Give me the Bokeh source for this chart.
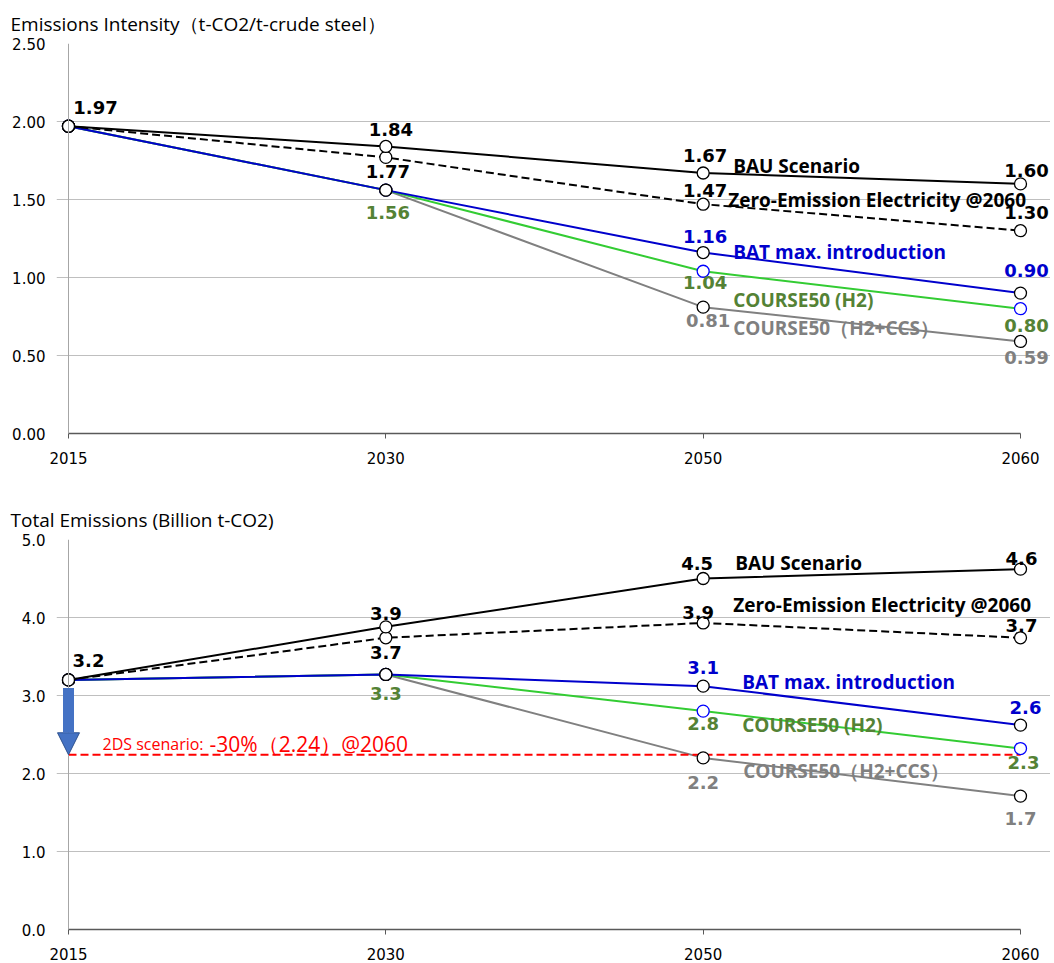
from bokeh.plotting import figure
from bokeh.models import Range1d, FixedTicker, Span, Arrow, NormalHead, ColumnDataSource, NumeralTickFormatter
from bokeh.layouts import column
from bokeh.core.properties import value
from bokeh.embed import file_html
from bokeh.resources import INLINE

# ---------------- data ----------------
years = ["2015", "2030", "2050", "2060"]
series_names = ["BAU Scenario", "Zero-Emission Electricity @2060", "BAT max. introduction",
                "COURSE50 (H2)", "COURSE50（H2+CCS）"]

intensity_bau = [1.97, 1.84, 1.67, 1.60]
intensity_zero = [1.97, 1.77, 1.47, 1.30]
intensity_bat = [1.97, 1.56, 1.16, 0.90]
intensity_h2 = [1.97, 1.56, 1.04, 0.80]
intensity_ccs = [1.97, 1.56, 0.81, 0.59]

total_bau = [3.20, 3.88, 4.50, 4.62]
total_zero = [3.20, 3.74, 3.93, 3.74]
total_bat = [3.20, 3.27, 3.12, 2.62]
total_h2 = [3.20, 3.27, 2.80, 2.32]
total_ccs = [3.20, 3.27, 2.20, 1.71]

target_2ds = 2.24

intensity_ticks = [0.0, 0.5, 1.0, 1.5, 2.0, 2.5]
total_ticks = [0.0, 1.0, 2.0, 3.0, 4.0, 5.0]

# which point labels are shown (per series, per year)
intensity_shown = [[1, 1, 1, 1], [0, 1, 1, 1], [0, 0, 1, 1], [0, 1, 1, 1], [0, 0, 1, 1]]
total_shown = [[1, 1, 1, 1], [0, 1, 1, 1], [0, 0, 1, 1], [0, 1, 1, 1], [0, 0, 1, 1]]

# ---------------- styles / positions ----------------
line_colors = ["black", "black", "#0000CC", "#33CC33", "#808080"]
text_colors = ["black", "black", "#0000CC", "#548235", "#808080"]
dashes = ["solid", "8 4", "solid", "solid", "solid"]
marker_lines = ["black", "black", "black", "#0000FF", "black"]

# label offsets in px (dx, dy) per series per year
intensity_lab_off = [
    [(27, -19), (5, -17), (2, -17), (6, -13)],
    [(0, 0), (2, 14), (2, -14), (6, -18)],
    [(0, 0), (0, 0), (2, -16), (6, -23)],
    [(0, 0), (2, 22), (2, 11), (6, 17)],
    [(0, 0), (0, 0), (5, 13), (6, 16)],
]
total_lab_off = [
    [(20, -19), (0, -13), (-6, -15), (1, -11)],
    [(0, 0), (0, 15), (-5, -10), (1, -12)],
    [(0, 0), (0, 0), (0, -19), (5, -18)],
    [(0, 0), (0, 19), (0, 12), (3, 14)],
    [(0, 0), (0, 0), (0, 25), (0, 22)],
]
# series name offsets from the 2050 point (dx to left edge, dy to centre)
intensity_name_off = [(30, -7), (25, -4), (30, -1), (30, 29), (30, 21)]
total_name_off = [(32, -16), (30, -18), (39, -4), (39, 14), (40, 13)]

LEFT = 56
PLOT_W = 952
PAD_L = 12
PAD_R = 30
FIG_W = LEFT + PAD_L + PLOT_W + PAD_R
PPU = PLOT_W / 3.0
X0 = -PAD_L / PPU
X1 = 3 + PAD_R / PPU

xs = list(range(len(years)))
draw_order = [4, 3, 2, 1, 0]
marker_order = [3, 4, 2, 1, 0]


def make_panel(title, series, ticks, tick_fmt, height, b_top, b_bottom, title_standoff):
    ymax = ticks[-1]
    p = figure(width=FIG_W, height=height, x_range=Range1d(X0, X1), y_range=Range1d(0, ymax),
               output_backend="svg", toolbar_location=None,
               min_border_left=LEFT, min_border_right=0,
               min_border_top=b_top, min_border_bottom=b_bottom)
    p.outline_line_color = None
    p.background_fill_color = "white"

    p.title.text = title
    p.title.align = "left"
    p.title.offset = -(LEFT - 10)
    p.title.standoff = title_standoff
    p.title.text_font = "Open Sans"
    p.title.text_font_style = "normal"
    p.title.text_font_size = "19px"
    p.title.text_color = "black"

    # x axis
    p.xaxis.ticker = FixedTicker(ticks=xs)
    p.xaxis.major_label_overrides = {i: y for i, y in enumerate(years)}
    p.xaxis.bounds = (xs[0], xs[-1])
    p.xaxis.axis_line_color = "#595959"
    p.xaxis.axis_line_width = 1.3
    p.xaxis.major_tick_line_color = "#595959"
    p.xaxis.major_tick_out = 5
    p.xaxis.major_tick_in = 0
    p.xaxis.minor_tick_line_color = None
    p.xaxis.major_label_standoff = 13
    p.xaxis.major_label_text_font = "DejaVu Sans"
    p.xaxis.major_label_text_font_size = "15px"
    p.xaxis.major_label_text_color = "black"

    # y axis
    p.yaxis.ticker = FixedTicker(ticks=ticks)
    p.yaxis.formatter = NumeralTickFormatter(format=tick_fmt)
    p.yaxis.axis_line_color = None
    p.yaxis.major_tick_line_color = None
    p.yaxis.major_tick_out = 0
    p.yaxis.major_tick_in = 0
    p.yaxis.minor_tick_line_color = None
    p.yaxis.major_label_standoff = 11
    p.yaxis.major_label_text_font = "DejaVu Sans"
    p.yaxis.major_label_text_font_size = "15px"
    p.yaxis.major_label_text_color = "black"

    p.xgrid.grid_line_color = None
    p.ygrid.grid_line_color = "#BFBFBF"
    p.ygrid.grid_line_width = 1
    p.ygrid.bounds = (-5 / PPU, xs[-1])

    p.add_layout(Span(location=xs[0], dimension="height", line_color="#A6A6A6", line_width=1))

    for i in draw_order:
        p.line(xs, series[i], line_color=line_colors[i], line_width=2, line_dash=dashes[i])
    return p


def add_points_and_labels(p, series, fmt, shown, lab_off, name_off):
    for i in marker_order:
        p.scatter(xs, series[i], size=12, marker="circle", fill_color="white",
                  line_color=marker_lines[i], line_width=1.3)
    lx, ly, lt, ldx, ldy, lc = [], [], [], [], [], []
    for i, vals in enumerate(series):
        for j, v in enumerate(vals):
            if shown[i][j]:
                lx.append(xs[j]); ly.append(v); lt.append(fmt.format(v))
                ldx.append(lab_off[i][j][0]); ldy.append(lab_off[i][j][1]); lc.append(text_colors[i])
    src = ColumnDataSource(dict(x=lx, y=ly, t=lt, dx=ldx, dy=ldy, c=lc))
    p.text(x="x", y="y", text="t", x_offset="dx", y_offset="dy", text_color="c", source=src,
           text_font=value("DejaVu Sans"), text_font_style="bold", text_font_size="18px",
           text_align="center", text_baseline="middle")
    nsrc = ColumnDataSource(dict(
        x=[xs[2]] * len(series), y=[s[2] for s in series], t=series_names,
        dx=[o[0] for o in name_off], dy=[o[1] for o in name_off], c=text_colors))
    p.text(x="x", y="y", text="t", x_offset="dx", y_offset="dy", text_color="c", source=nsrc,
           text_font=value("Open Sans"), text_font_style="bold", text_font_size="19px",
           text_align="left", text_baseline="middle")


intensity = [intensity_bau, intensity_zero, intensity_bat, intensity_h2, intensity_ccs]
total = [total_bau, total_zero, total_bat, total_h2, total_ccs]

TOP_FRAME = 390
BOT_FRAME = 390
p1 = make_panel("Emissions Intensity（t-CO2/t-crude steel）", intensity, intensity_ticks, "0.00",
                43 + TOP_FRAME + 63, 43, 63, 14)
add_points_and_labels(p1, intensity, "{:.2f}", intensity_shown, intensity_lab_off, intensity_name_off)

p2 = make_panel("Total Emissions (Billion t-CO2)", total, total_ticks, "0.0",
                43 + BOT_FRAME + 34, 43, 34, 14)

# 2DS target line
p2.line([xs[0], xs[-1]], [target_2ds, target_2ds], line_color="#FF0000", line_width=2, line_dash="8 4")
add_points_and_labels(p2, total, "{:.1f}", total_shown, total_lab_off, total_name_off)

ppy2 = BOT_FRAME / total_ticks[-1]
p2.add_layout(Arrow(end=NormalHead(size=22, fill_color="#4472C4", line_color="#2F528F", line_width=1),
                    x_start=xs[0], y_start=total_bau[0] - 8 / ppy2, x_end=xs[0], y_end=target_2ds,
                    line_color="#4472C4", line_width=11))

p2.text(x=[xs[0]], y=[target_2ds], text=["2DS scenario:"], x_offset=34, y_offset=-11,
        text_font=value("Open Sans"), text_font_size="16px", text_color="#FF0000",
        text_align="left", text_baseline="alphabetic")
p2.text(x=[xs[0]], y=[target_2ds], text=[f"-30%（{target_2ds:.2f}）@2060"], x_offset=141, y_offset=-11,
        text_font=value("Open Sans"), text_font_size="21px", text_color="#FF0000",
        text_align="left", text_baseline="alphabetic")

layout = column(p1, p2, spacing=0)
open("out.html", "w").write(file_html(layout, INLINE))
